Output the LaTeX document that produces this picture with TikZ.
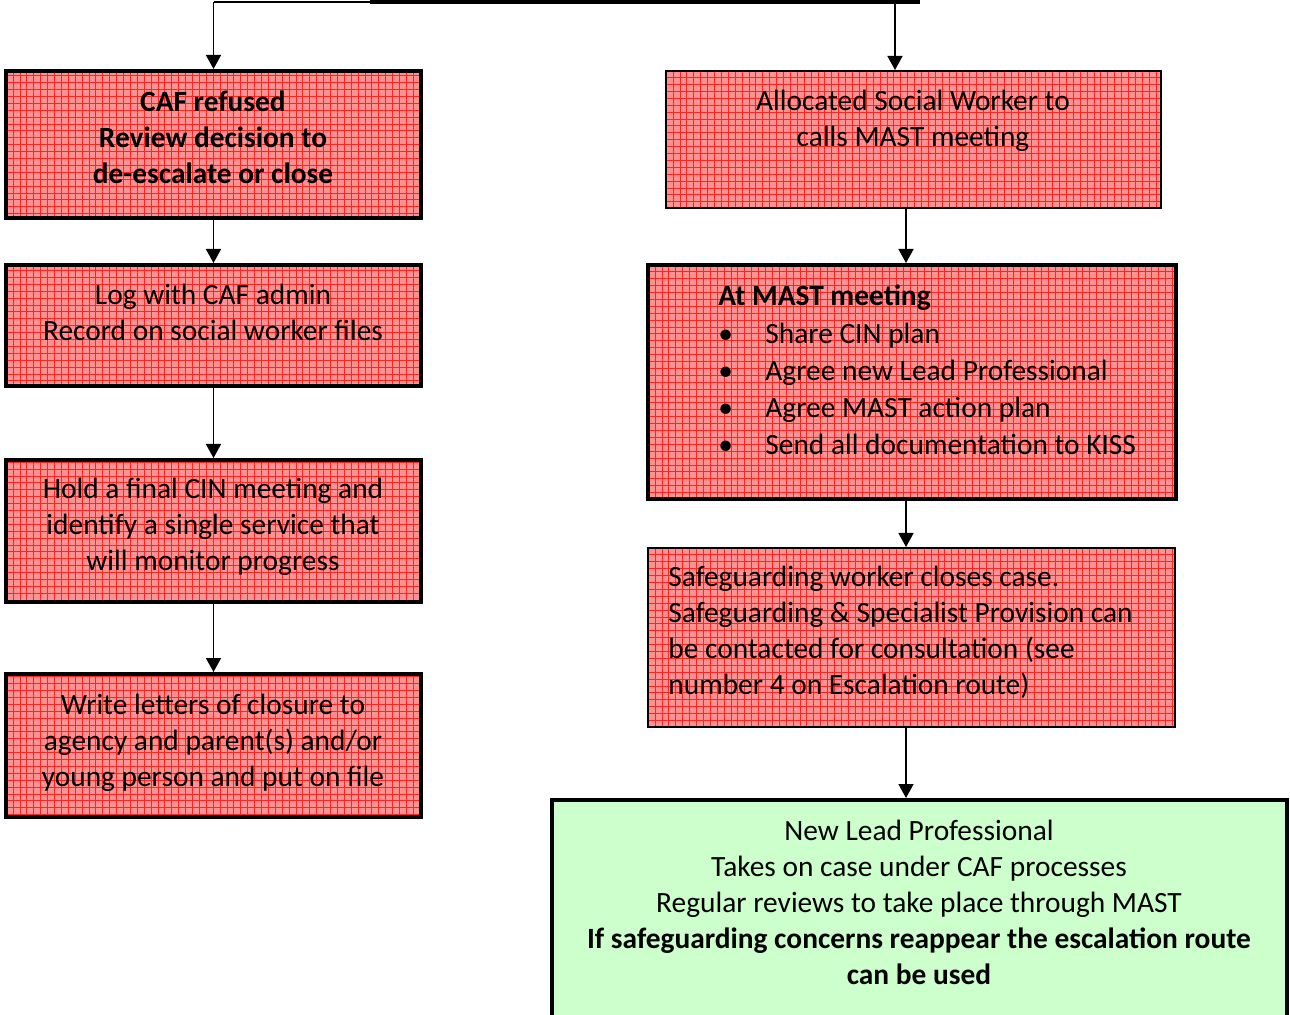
\documentclass[tikz,border=0pt]{standalone}
\usepackage{fontspec}
\setmainfont{Carlito}
\usetikzlibrary{fit,arrows.meta}
\definecolor{boxred}{RGB}{255,145,145}
\definecolor{gridred}{RGB}{255,35,35}
\definecolor{boxgreen}{RGB}{204,255,204}
\definecolor{topfill}{RGB}{95,25,25}
\tikzset{
  gridfill/.style={fill=boxred, path picture={\draw[gridred, line width=0.28pt]
      ([xshift=-5pt,yshift=-5pt]path picture bounding box.south west) grid[step=3.45pt]
      ([xshift=5pt,yshift=5pt]path picture bounding box.north east);}},
  redthick/.style={gridfill, draw=black, line width=2pt, inner sep=0pt},
  redthin/.style={gridfill, draw=black, line width=1pt, inner sep=0pt},
  greenbox/.style={fill=boxgreen, draw=black, line width=2pt, inner sep=0pt},
  txt/.style={font=\fontsize{14.7}{18}\selectfont, align=center, inner sep=0pt},
  ltxt/.style={font=\fontsize{14.7}{18}\selectfont, align=left, inner sep=0pt, anchor=west},
  arr/.style={-{Triangle[width=7.5pt,length=7pt]}, line width=0.75pt},
}
\begin{document}
\begin{tikzpicture}[x=0.5pt,y=-0.5pt]
\clip (0,0) rectangle (1290,1015);
\fill[white] (0,0) rectangle (1290,1015);

% partially visible box at top
\node[fit={(372,-30)(918,2)}, fill=topfill, draw=black, line width=2pt, inner sep=0pt] (top) {};
\coordinate (tl) at (372,2);
\coordinate (tr) at (895,2);
\coordinate (xr) at (906,0);

% left column
\node[redthick, fit={(6,71)(421,218)}] (b1) {};
\node[redthick, fit={(6,265)(421,386)}] (b2) {};
\node[redthick, fit={(6,460)(421,602)}] (b3) {};
\node[redthick, fit={(6,674)(421,817)}] (b4) {};

% right column
\node[redthin, fit={(666,71)(1161,208)}] (b5) {};
\node[redthick, fit={(648,265)(1176,499)}] (b6) {};
\node[redthin, fit={(648,548)(1175,727)}] (b7) {};
\node[greenbox, fit={(552,800)(1287,1030)}] (b8) {};

% texts
\node[txt, font=\fontsize{14.7}{18}\selectfont\bfseries] (t1) at (213,137)
  {CAF refused\\Review decision to\\de-escalate or close};
\node[txt] (t2) at (213,312) {Log with CAF admin\\Record on social worker files};
\node[txt] (t3) at (213,527) {Hold a final CIN meeting and\\identify a single service that\\will monitor progress};
\node[txt] (t4) at (213,743) {Write letters of closure to\\agency and parent(s) and/or\\young person and put on file};
\node[txt] (t5) at (913,121) {Allocated Social Worker to\\calls MAST meeting};
\node[ltxt, font=\fontsize{14.7}{18.6}\selectfont] (t6) at (718,370)
  {\textbf{At MAST meeting}\\
   \makebox[23.5pt][l]{\textbullet}Share CIN plan\\
   \makebox[23.5pt][l]{\textbullet}Agree new Lead Professional\\
   \makebox[23.5pt][l]{\textbullet}Agree MAST action plan\\
   \makebox[23.5pt][l]{\textbullet}Send all documentation to KISS};
\node[ltxt] (t7) at (668,632)
  {Safeguarding worker closes case.\\Safeguarding \& Specialist Provision can\\be contacted for consultation (see\\number 4 on Escalation route)};
\node[txt] (t8) at (919,902)
  {New Lead Professional\\Takes on case under CAF processes\\Regular reviews to take place through MAST\\
   \textbf{If safeguarding concerns reappear the escalation route}\\\textbf{can be used}};

% connectors
\draw[line width=0.75pt] (tl) -- (tl -| b1.north);
\draw[arr] (tl -| b1.north) -- (b1.north);
\draw[arr] (tr) -- (tr |- b5.north);
\draw[arr] (b1.south) -- (b2.north);
\draw[arr] (b2.south) -- (b3.north);
\draw[arr] (b3.south) -- (b4.north);
\draw[arr] (b5.south -| xr) -- (b6.north -| xr);
\draw[arr] (b6.south -| xr) -- (b7.north -| xr);
\draw[arr] (b7.south -| xr) -- (b8.north -| xr);
\end{tikzpicture}
\end{document}
